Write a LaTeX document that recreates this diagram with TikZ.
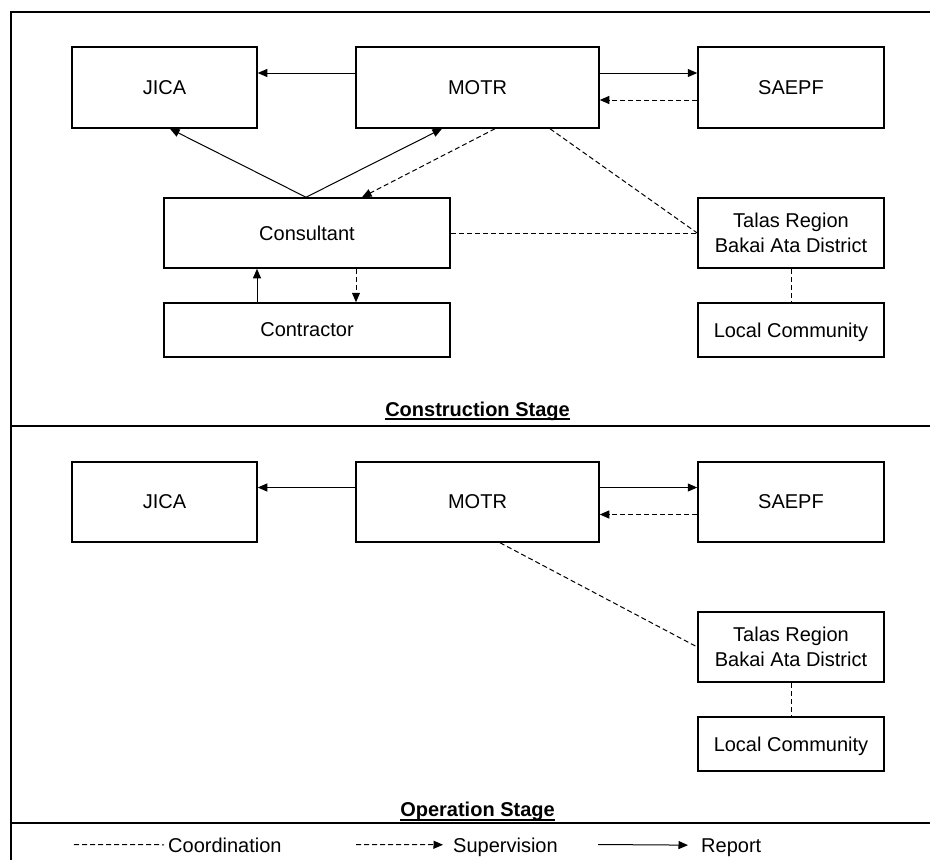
\documentclass[tikz,border=0pt]{standalone}
\usepackage{fontspec}
\setmainfont{Liberation Sans}
\usetikzlibrary{arrows.meta}

\begin{document}
\begin{tikzpicture}[x=1pt,y=-1pt,
  org/.style={draw,line width=1.5pt,inner sep=0pt,align=center,font=\fontsize{20}{25}\selectfont},
  onel/.style={org,text depth=0pt},
  report/.style={line width=1pt,-{Triangle[length=9.5pt,width=8pt]}},
  superv/.style={line width=1pt,dash pattern=on 5pt off 3pt,-{Triangle[length=9.5pt,width=8pt]}},
  coordln/.style={line width=1pt,dash pattern=on 5pt off 3pt},
  framing/.style={line width=2pt},
  ttl/.style={inner sep=0pt,anchor=base,font=\fontsize{20}{24}\selectfont\bfseries},
  legtext/.style={inner sep=0pt,anchor=base west,text depth=0pt,font=\fontsize{20}{24}\selectfont}]
  \useasboundingbox (0,0) rectangle (930,860);
  %frame
  \draw[framing] (930,12) -- (11,12) -- (11,860);
  \draw[framing] (11,426) -- (930,426);
  \draw[framing] (11,823) -- (930,823);

  %construction stage
  \node[onel,minimum width=185pt,minimum height=81pt] (jica) at (164.5,87.5) {JICA};
  \node[onel,minimum width=243pt,minimum height=81pt] (motr) at (477.5,87.5) {MOTR};
  \node[onel,minimum width=186pt,minimum height=81pt] (saepf) at (791,87.5) {SAEPF};
  \node[onel,minimum width=286pt,minimum height=70pt] (cons) at (307,233) {Consultant};
  \node[onel,minimum width=286pt,minimum height=54pt] (contr) at (307,330) {Contractor};
  \node[org,minimum width=186pt,minimum height=70pt] (talas) at (791,233) {Talas Region\\Bakai Ata District};
  \node[onel,minimum width=186pt,minimum height=54pt] (local) at (791,330) {Local Community};
  \draw[report] ([yshift=14.5pt]motr.west) -- ([yshift=14.5pt]jica.east);
  \draw[report] ([yshift=14.5pt]motr.east) -- ([yshift=14.5pt]saepf.west);
  \draw[superv] ([yshift=-12.5pt]saepf.west) -- ([yshift=-12.5pt]motr.east);
  \draw[report] ([xshift=-1pt]cons.north) -- ([xshift=5.5pt]jica.south);
  \draw[report] ([xshift=-1pt]cons.north) -- ([xshift=-35.5pt]motr.south);
  \draw[superv] ([xshift=17.5pt]motr.south) -- ([xshift=55pt]cons.north);
  \draw[coordln] ([xshift=72.5pt]motr.south) -- (talas.west);
  \draw[coordln] (cons.east) -- (talas.west);
  \draw[coordln] (talas.south) -- (local.north);
  \draw[report] ([xshift=-50pt]contr.north) -- ([xshift=-50pt]cons.south);
  \draw[superv] ([xshift=49pt]cons.south) -- ([xshift=49pt]contr.north);
  \node[ttl] (constr) at (477.5,416) {Construction Stage};
  \draw[line width=2pt] ([yshift=-3pt]constr.base west) -- ([yshift=-3pt]constr.base east);

  %operation stage
  \node[onel,minimum width=185pt,minimum height=80pt] (jica2) at (164.5,502) {JICA};
  \node[onel,minimum width=243pt,minimum height=80pt] (motr2) at (477.5,502) {MOTR};
  \node[onel,minimum width=186pt,minimum height=80pt] (saepf2) at (791,502) {SAEPF};
  \node[org,minimum width=186pt,minimum height=70pt] (talas2) at (791,647) {Talas Region\\Bakai Ata District};
  \node[onel,minimum width=186pt,minimum height=54pt] (local2) at (791,744) {Local Community};
  \draw[report] ([yshift=14.5pt]motr2.west) -- ([yshift=14.5pt]jica2.east);
  \draw[report] ([yshift=14.5pt]motr2.east) -- ([yshift=14.5pt]saepf2.west);
  \draw[superv] ([yshift=-12.5pt]saepf2.west) -- ([yshift=-12.5pt]motr2.east);
  \draw[coordln] ([xshift=22.5pt]motr2.south) -- (talas2.west);
  \draw[coordln] (talas2.south) -- (local2.north);
  \node[ttl] (oper) at (477.5,816) {Operation Stage};
  \draw[line width=2pt] ([yshift=-3.5pt]oper.base west) -- ([yshift=-3.5pt]oper.base east);

  %legend
  \node[legtext] (lcoo) at (168,852) {Coordination};
  \node[legtext] (lsup) at (453,852) {Supervision};
  \node[legtext] (lrep) at (701,852) {Report};
  \coordinate (lcoo0) at (74,844.5);
  \coordinate (lsup0) at (356,844.5);
  \coordinate (lrep0) at (598,844.5);
  \draw[coordln] (lcoo0) -- ([xshift=-4pt]lcoo.west);
  \draw[superv] (lsup0) -- ([xshift=-10pt]lsup.west);
  \draw[report] (lrep0) -- ([xshift=-13pt]lrep.west);
\end{tikzpicture}
\end{document}
